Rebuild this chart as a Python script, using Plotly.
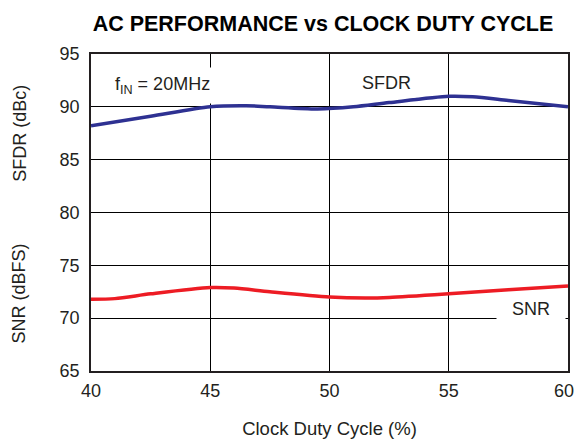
import plotly.graph_objects as go

duty = [40, 42.5, 45, 46.5, 47.5, 49.5, 51, 52.5, 55, 56, 57.5, 60]
sfdr = [88.2, 89.1, 90.0, 90.1, 90.0, 89.8, 90.0, 90.4, 91.0, 90.95, 90.6, 90.0]
duty_snr = [40, 41, 42.5, 45, 46, 47.5, 50, 51.5, 52.5, 55, 57.5, 60]
snr = [71.8, 71.85, 72.3, 72.9, 72.85, 72.5, 72.0, 71.9, 71.95, 72.3, 72.7, 73.05]
x_ticks = [40, 45, 50, 55, 60]
x_tick_labels = ["40", "45", "50", "55", "60"]
y_ticks = [65, 70, 75, 80, 85, 90, 95]

FONT = "Liberation Sans, Arial, sans-serif"
TXT = "#231F20"

fig = go.Figure()
fig.add_trace(go.Scatter(x=duty, y=sfdr, mode="lines", line=dict(color="#2E3192", width=3.5, shape="spline", smoothing=0.8), name="SFDR"))
fig.add_trace(go.Scatter(x=duty_snr, y=snr, mode="lines", line=dict(color="#ED1C24", width=3.5, shape="spline", smoothing=0.8), name="SNR"))

fig.update_layout(
    width=576, height=439,
    margin=dict(l=91, r=8, t=54, b=68),
    paper_bgcolor="white", plot_bgcolor="white",
    showlegend=False,
    font=dict(family=FONT, color=TXT, size=18),
    title=dict(text="<b>AC PERFORMANCE vs CLOCK DUTY CYCLE</b>", x=323/576, xanchor="center",
               y=1-23/439, yanchor="middle", font=dict(family=FONT, size=21.5, color="black")),
    xaxis=dict(range=[40, 60], tickvals=x_ticks[:-1], ticktext=x_tick_labels[:-1],
               showgrid=True, gridcolor="black", gridwidth=1,
               showline=True, linecolor=TXT, linewidth=1.5, mirror=True, ticks="", zeroline=False,
               tickfont=dict(size=18), ticklabelstandoff=3, automargin=False,
               title=dict(text="Clock Duty Cycle (%)", font=dict(size=18.5), standoff=24)),
    yaxis=dict(range=[65, 95], tickvals=y_ticks, showgrid=True, gridcolor="black", gridwidth=1,
               showline=True, linecolor=TXT, linewidth=1.5, mirror=True, ticks="", zeroline=False,
               tickfont=dict(size=18), ticklabelstandoff=6, automargin=False),
)

# last x tick label, pulled inside the page edge as in the original (x=60 is the frame edge)
fig.add_annotation(x=x_ticks[-1], y=0, xref="x", yref="paper", text=x_tick_labels[-1], showarrow=False,
                   xanchor="right", yanchor="middle", xshift=8, yshift=-20, font=dict(size=18))

fig.add_annotation(x=43.0, y=92.0, xref="x", yref="y", text="f<sub>IN</sub> = 20MHz", showarrow=False,
                   font=dict(size=18), bgcolor="white", borderpad=6)
fig.add_annotation(x=52.4, y=92.3, xref="x", yref="y", text="SFDR", showarrow=False,
                   font=dict(size=18), bgcolor="white", borderpad=4)
fig.add_annotation(x=58.45, y=70.9, xref="x", yref="y", text="SNR", showarrow=False,
                   font=dict(size=18), bgcolor="white", width=66, height=24)
fig.add_annotation(x=-0.149, y=0.751, xref="paper", yref="paper", xanchor="center", yanchor="middle",
                   text="SFDR (dBc)", textangle=-90, showarrow=False, font=dict(size=18))
fig.add_annotation(x=-0.149, y=0.2445, xref="paper", yref="paper", xanchor="center", yanchor="middle",
                   text="SNR (dBFS)", textangle=-90, showarrow=False, font=dict(size=18))

fig.write_html("out.html", config={"displayModeBar": False},
               post_script="document.body.style.margin='0';document.body.style.overflow='hidden';")
